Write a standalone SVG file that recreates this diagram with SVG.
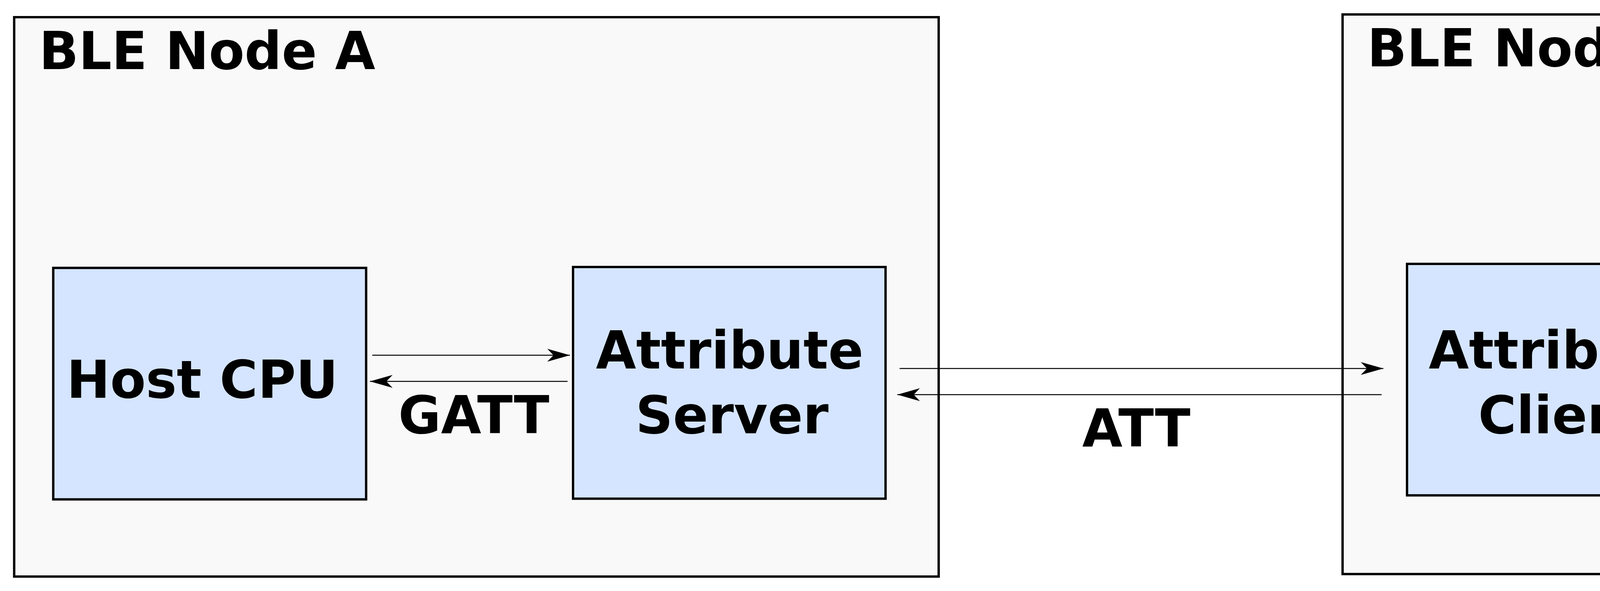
<svg xmlns="http://www.w3.org/2000/svg" width="5841" height="1514" viewBox="0 0 5841 1514">
  <style>
    .container { fill: #f9f9f9; stroke: #000000; stroke-width: 6; }
    .box { fill: #d5e5ff; stroke: #000000; stroke-width: 6; }
    .label { font-family: "DejaVu Sans", "Liberation Sans", sans-serif; font-weight: bold; font-size: 133px; fill: #000000; }
    .mid { text-anchor: middle; }
    .conn { fill: none; stroke: #000000; stroke-width: 2.7; marker-end: url(#arrow); }
  </style>
  <defs>
    <marker id="arrow" markerUnits="userSpaceOnUse" markerWidth="60" markerHeight="36" refX="58" refY="17" orient="auto" overflow="visible">
      <path d="M0,0.5 L58,17 L0,33.5 L16,17 Z" fill="#000000"/>
    </marker>
  </defs>
  <rect width="5841" height="1514" fill="#ffffff"/>

  <g id="node-a">
    <rect class="container" x="36.3" y="44" width="2366.7" height="1433"/>
    <text class="label" x="100" y="177">BLE Node A</text>
  </g>
  <g id="node-b">
    <rect class="container" x="3437" y="37" width="2368" height="1433.6"/>
    <text class="label" x="3500" y="170">BLE Node B</text>
  </g>

  <g id="host-cpu-a">
    <rect class="box" x="136.3" y="686.3" width="801" height="593"/>
    <text class="label mid" x="518" y="1019">Host CPU</text>
  </g>
  <g id="attribute-server">
    <rect class="box" x="1467" y="684" width="800" height="593.5"/>
    <text class="label mid" x="1868" y="944">Attribute</text>
    <text class="label mid" x="1874" y="1110">Server</text>
  </g>
  <g id="attribute-client">
    <rect class="box" x="3602" y="676" width="800.6" height="593"/>
    <text class="label mid" x="4000" y="944">Attribute</text>
    <text class="label mid" x="4003" y="1110">Client</text>
  </g>
  <g id="host-cpu-b">
    <rect class="box" x="4933" y="674" width="802" height="593"/>
    <text class="label mid" x="5347" y="987">Host CPU</text>
  </g>

  <g id="connectors">
    <path class="conn" d="M953,910 L1459,910"/>
    <path class="conn" d="M1453,977 L947,977"/>
    <path class="conn" d="M2303,944 L3541.5,944"/>
    <path class="conn" d="M3537,1011 L2297,1011"/>
    <path class="conn" d="M4420,901 L4925.6,901"/>
    <path class="conn" d="M4919,967.5 L4412,967.5"/>
  </g>

  <g id="connector-labels">
    <text class="label mid" x="1213" y="1110">GATT</text>
    <text class="label mid" x="2909" y="1144">ATT</text>
    <text class="label mid" x="4684" y="1101">GATT</text>
  </g>
</svg>
